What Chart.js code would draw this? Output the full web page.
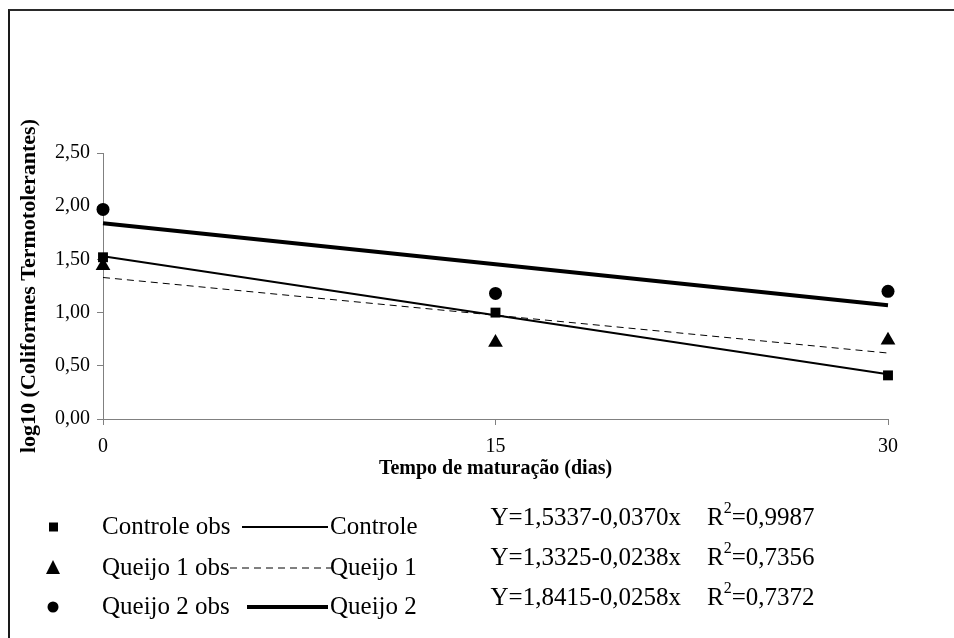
<!DOCTYPE html>
<html>
<head>
<meta charset="utf-8">
<script src="https://cdn.jsdelivr.net/npm/chart.js@4"></script>
<style>
  html, body { margin: 0; padding: 0; background: #fff; }
  #wrap { position: relative; width: 954px; height: 638px; overflow: hidden; }
  #frame { position: absolute; left: 8px; top: 9px; width: 2000px; height: 2000px;
           border-top: 2px solid #2a2a2a; border-left: 2px solid #1a1a1a; }
  canvas { position: absolute; left: 0; top: 0; }
</style>
</head>
<body>
<div id="wrap">
  <div id="frame"></div>
  <canvas id="chart" width="954" height="638"></canvas>
</div>
<script>
// observed values (log10 coliformes termotolerantes)
const days = [0, 15, 30];
const controleObs = [1.52, 1.00, 0.41];
const queijo1Obs = [1.44, 0.72, 0.74];
const queijo2Obs = [1.97, 1.18, 1.20];

// fitted lines, read at both ends
const fitDays = [0, 30];
const controleFit = [1.53, 0.42];
const queijo1Fit = [1.33, 0.62];
const queijo2Fit = [1.84, 1.07];

const xTicks = [0, 15, 30];
const yTicks = [0, 0.5, 1, 1.5, 2, 2.5];

const equations = ["Y=1,5337-0,0370x", "Y=1,3325-0,0238x", "Y=1,8415-0,0258x"];
const r2Values = ["0,9987", "0,7356", "0,7372"];

const serif = "'Liberation Serif', 'Times New Roman', serif";

function pts(xs, ys) {
  return xs.map((x, i) => ({ x: x, y: ys[i] }));
}

const obsSets = [
  { label: "Controle obs", data: pts(days, controleObs), pointStyle: "rect", pointRadius: 7 },
  { label: "Queijo 1 obs", data: pts(days, queijo1Obs), pointStyle: "triangle", pointRadius: 8.5 },
  { label: "Queijo 2 obs", data: pts(days, queijo2Obs), pointStyle: "circle", pointRadius: 6.5 },
].map(d => Object.assign(d, {
  showLine: false, backgroundColor: "#000", borderColor: "#000", borderWidth: 0, order: 1, clip: false,
}));

const fitSets = [
  { label: "Controle", data: pts(fitDays, controleFit), borderWidth: 2, borderDash: [] },
  { label: "Queijo 1", data: pts(fitDays, queijo1Fit), borderWidth: 1, borderDash: [7, 5] },
  { label: "Queijo 2", data: pts(fitDays, queijo2Fit), borderWidth: 4, borderDash: [] },
].map(d => Object.assign(d, {
  showLine: true, pointRadius: 0, borderColor: "#000", backgroundColor: "#000", order: 2, clip: false,
}));

// axis titles, legend and equations
const extras = {
  id: "extras",
  afterDraw(chart) {
    const ctx = chart.ctx;
    const area = chart.chartArea;
    ctx.save();
    ctx.fillStyle = "#000";
    ctx.strokeStyle = "#000";
    ctx.textBaseline = "middle";

    // axis titles
    ctx.font = "bold 20px " + serif;
    ctx.textAlign = "center";
    ctx.fillText("Tempo de maturação (dias)", (area.left + area.right) / 2, area.bottom + 50);
    ctx.font = "bold 22px " + serif;
    ctx.save();
    ctx.translate(29, (area.top + area.bottom) / 2);
    ctx.rotate(-Math.PI / 2);
    ctx.fillText("log10 (Coliformes Termotolerantes)", 0, 0);
    ctx.restore();

    // legend
    const big = "25px " + serif;
    ctx.font = big;
    ctx.textAlign = "left";
    const rows = [527, 568, 607];
    const lineEnds = [[242, 328], [230, 332], [247, 328]];
    rows.forEach((y, i) => {
      const obs = obsSets[i];
      const fit = fitSets[i];
      ctx.beginPath();
      if (obs.pointStyle === "rect") {
        ctx.rect(49, y - 4.5, 9, 9);
      } else if (obs.pointStyle === "triangle") {
        ctx.moveTo(53, y - 8);
        ctx.lineTo(60, y + 6);
        ctx.lineTo(46, y + 6);
        ctx.closePath();
      } else {
        ctx.arc(53, y, 5.5, 0, Math.PI * 2);
      }
      ctx.fill();
      ctx.fillText(obs.label, 102, y);

      ctx.beginPath();
      ctx.lineWidth = fit.borderWidth;
      ctx.setLineDash(fit.borderDash);
      ctx.moveTo(lineEnds[i][0], y);
      ctx.lineTo(lineEnds[i][1], y);
      ctx.stroke();
      ctx.setLineDash([]);
      ctx.fillText(fit.label, 330, y);

      // equation + R²
      const ey = 518 + i * 40;
      ctx.textAlign = "right";
      ctx.fillText(equations[i], 681, ey);
      ctx.textAlign = "left";
      let x = 707;
      ctx.fillText("R", x, ey);
      x += ctx.measureText("R").width;
      ctx.font = "16px " + serif;
      ctx.fillText("2", x, ey - 9);
      x += ctx.measureText("2").width;
      ctx.font = big;
      ctx.fillText("=" + r2Values[i], x, ey);
    });
    ctx.restore();
  }
};

new Chart(document.getElementById("chart"), {
  type: "scatter",
  data: { datasets: obsSets.concat(fitSets) },
  options: {
    responsive: false,
    animation: false,
    layout: { padding: { left: 8, right: 66, top: 153, bottom: 174 } },
    plugins: { legend: { display: false }, tooltip: { enabled: false } },
    scales: {
      x: {
        type: "linear", min: 0, max: 30,
        afterBuildTicks: s => { s.ticks = xTicks.map(v => ({ value: v })); },
        afterFit: s => { s.height = 45; },
        border: { color: "#808080", width: 1 },
        grid: { drawOnChartArea: false, tickLength: 6, color: "#808080" },
        ticks: { color: "#000", padding: 10, font: { family: serif, size: 20 } },
      },
      y: {
        min: 0, max: 2.5,
        afterBuildTicks: s => { s.ticks = yTicks.map(v => ({ value: v })); },
        afterFit: s => { s.width = 95; },
        border: { color: "#808080", width: 1 },
        grid: { drawOnChartArea: false, tickLength: 6, color: "#808080" },
        ticks: {
          color: "#000", padding: 7, font: { family: serif, size: 20 },
          callback: v => v.toFixed(2).replace(".", ","),
        },
      },
    },
  },
  plugins: [extras],
});
</script>
</body>
</html>
